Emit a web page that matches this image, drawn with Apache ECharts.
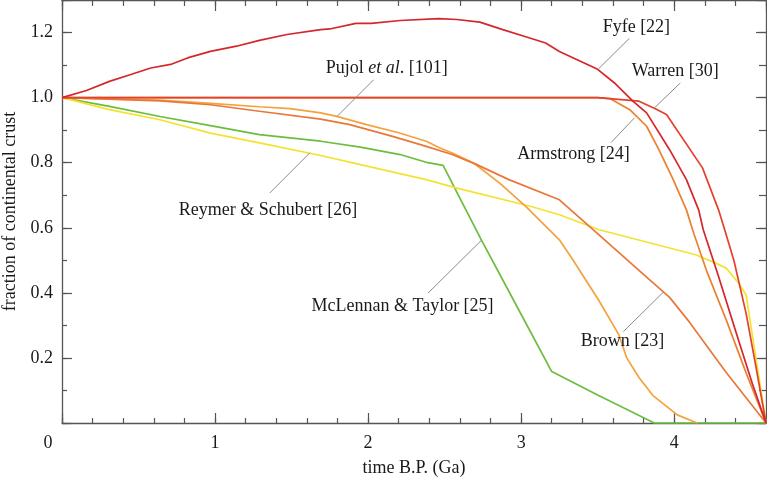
<!DOCTYPE html>
<html><head><meta charset="utf-8">
<script src="https://cdn.jsdelivr.net/npm/echarts@6/dist/echarts.min.js"></script>
<style>html,body{margin:0;padding:0;background:#fff}#c{width:767px;height:479px}</style>
</head><body><div id="c"></div>
<script>
// ---- data (time B.P. in Ga, fraction of present continental crust) ----
const fyfe = [[0,1.0],[0.16,1.022],[0.31,1.05],[0.45,1.071],[0.58,1.091],[0.71,1.102],[0.82,1.122],[0.97,1.142],[1.14,1.158],[1.29,1.176],[1.47,1.194],[1.69,1.209],[1.75,1.211],[1.92,1.228],[2.02,1.228],[2.21,1.237],[2.46,1.243],[2.58,1.24],[2.73,1.232],[2.88,1.209],[3.03,1.187],[3.16,1.168],[3.25,1.142],[3.5,1.087],[3.61,1.045],[3.73,0.989],[3.82,0.953],[3.97,0.84],[4.08,0.748],[4.16,0.655],[4.19,0.594],[4.29,0.45],[4.42,0.255],[4.51,0.122],[4.6,0]];
const warren = [[0,1.0],[3.5,1.0],[3.77,0.989],[3.88,0.965],[3.95,0.948],[4.185,0.784],[4.29,0.655],[4.33,0.594],[4.39,0.5],[4.47,0.337],[4.53,0.184],[4.6,0]];
const armstrong = [[0,1.0],[3.5,1.0],[3.58,0.997],[3.71,0.963],[3.82,0.912],[3.9,0.84],[3.99,0.752],[4.08,0.655],[4.13,0.58],[4.21,0.47],[4.34,0.317],[4.47,0.154],[4.6,0]];
const pujol = [[0,1.0],[0.64,0.992],[0.97,0.982],[1.29,0.972],[1.49,0.966],[1.69,0.953],[1.79,0.943],[1.99,0.917],[2.2,0.892],[2.38,0.866],[2.47,0.845],[2.55,0.83],[2.69,0.799],[2.86,0.737],[3.03,0.666],[3.25,0.563],[3.34,0.5],[3.51,0.375],[3.64,0.27],[3.69,0.2],[3.77,0.14],[3.86,0.085],[4.02,0.025],[4.15,0]];
const brown = [[0,1.0],[0.64,0.99],[0.97,0.978],[1.29,0.958],[1.69,0.934],[1.88,0.917],[2.16,0.881],[2.38,0.85],[2.55,0.825],[2.71,0.794],[2.92,0.748],[3.25,0.686],[3.47,0.594],[3.84,0.44],[3.97,0.386],[4.1,0.31],[4.34,0.155],[4.6,0]];
const mclennan = [[0,1.0],[0.31,0.973],[0.64,0.942],[0.97,0.914],[1.29,0.886],[1.69,0.866],[1.95,0.848],[2.21,0.825],[2.39,0.8],[2.49,0.792],[2.74,0.563],[2.95,0.378],[3.2,0.158],[3.5,0.086],[3.87,0],[4.6,0]];
const reymer = [[0,1.0],[0.31,0.963],[0.64,0.932],[0.97,0.891],[1.29,0.861],[1.69,0.822],[1.95,0.794],[2.38,0.748],[2.58,0.722],[3.06,0.666],[3.25,0.64],[3.51,0.594],[4.14,0.517],[4.25,0.496],[4.34,0.476],[4.42,0.43],[4.47,0.394],[4.6,0]];
const xTickLabels = ['0','1','2','3','4'];
const yTickLabels = ['0.2','0.4','0.6','0.8','1.0','1.2'];

// ---- annotation labels (data coordinates) ----
const annotations = [
  {label:'Fyfe [22]', at:[3.753,1.215], from:[3.707,1.182], to:[3.507,1.089]},
  {label:'Warren [30]', at:[4.007,1.081], from:[4.04,1.045], to:[3.87,0.968]},
  {label:'Armstrong [24]', at:[3.342,0.825], from:[3.588,0.862], to:[3.74,0.9375]},
  {label:'{n|Pujol }{i|et al}{n|. [101]}', at:[2.122,1.091], from:[2.037,1.055], to:[1.798,0.9425]},
  {label:'Reymer & Schubert [26]', at:[1.346,0.655], from:[1.358,0.707], to:[1.619,0.83]},
  {label:'McLennan & Taylor [25]', at:[2.225,0.358], from:[2.391,0.399], to:[2.744,0.563]},
  {label:'Brown [23]', at:[3.663,0.252], from:[3.668,0.281], to:[3.929,0.402]}
];

const FONT = 'Liberation Serif';
const FS = 18;
const AX = '#555';
const TXT = '#1a1a1a';

function xAxisDef(pos, interval, len, labels, line) {
  return {
    type:'value', min:0, max:4.6, interval:interval, position:pos,
    axisLine:{show:line, onZero:false, lineStyle:{color:AX, width:1.3}},
    axisTick:{show:true, inside:true, length:len, lineStyle:{color:AX, width:1.2}},
    splitLine:{show:false},
    axisLabel: labels ? {
      show:true, margin:11, fontFamily:FONT, fontSize:FS, color:TXT,
      showMaxLabel:true,
      formatter: function(v){
        const r = Math.round(v);
        if (Math.abs(v - r) > 1e-6 || r >= xTickLabels.length) return '';
        if (r === 0) return '{z|' + xTickLabels[0] + '}';
        return xTickLabels[r];
      },
      rich:{z:{fontFamily:FONT, fontSize:FS, color:TXT, padding:[0,28,0,0]}}
    } : {show:false},
    name: labels ? 'time B.P. (Ga)' : '',
    nameLocation:'middle', nameGap:36,
    nameTextStyle:{fontFamily:FONT, fontSize:FS, color:TXT}
  };
}
function yAxisDef(pos, interval, len, labels, line) {
  return {
    type:'value', min:0, max:1.3, interval:interval, position:pos,
    axisLine:{show:line, onZero:false, lineStyle:{color:AX, width:1.3}},
    axisTick:{show:true, inside:true, length:len, lineStyle:{color:AX, width:1.2}},
    splitLine:{show:false},
    axisLabel: labels ? {
      show:true, margin:9, fontFamily:FONT, fontSize:FS, color:TXT,
      formatter: function(v){
        const i = Math.round(v / 0.2) - 1;
        if (Math.abs(v/0.2 - Math.round(v/0.2)) > 1e-6 || i < 0 || i >= yTickLabels.length) return '';
        return yTickLabels[i];
      }
    } : {show:false},
    name: labels ? 'fraction of continental crust' : '',
    nameLocation:'middle', nameGap:39, nameRotate:90,
    nameTextStyle:{fontFamily:FONT, fontSize:FS, color:TXT}
  };
}

function lineSeries(name, data, color, z) {
  return {
    name:name, type:'line', data:data, xAxisIndex:0, yAxisIndex:0,
    showSymbol:false, symbol:'none', smooth:false, clip:false, z:z,
    lineStyle:{color:color, width:1.7}, emphasis:{disabled:true}
  };
}

const chart = echarts.init(document.getElementById('c'));
chart.setOption({
  animation:false,
  backgroundColor:'#fff',
  grid:{left:62, right:1, top:0, bottom:56, containLabel:false, outerBoundsMode:'none'},
  xAxis:[
    xAxisDef('bottom', 1, 10, true, true),
    xAxisDef('bottom', 0.2, 5, false, false),
    xAxisDef('top', 1, 11, false, true),
    xAxisDef('top', 0.2, 6, false, false)
  ],
  yAxis:[
    yAxisDef('left', 0.2, 10, true, true),
    yAxisDef('left', 0.1, 5, false, false),
    yAxisDef('right', 0.2, 10, false, true),
    yAxisDef('right', 0.1, 7, false, false)
  ],
  series:[
    lineSeries('McLennan & Taylor [25]', mclennan, '#6cbd3e', 3),
    lineSeries('Reymer & Schubert [26]', reymer, '#f3e330', 4),
    lineSeries('Pujol et al. [101]', pujol, '#f4a23c', 5),
    lineSeries('Brown [23]', brown, '#e8783a', 6),
    lineSeries('Armstrong [24]', armstrong, '#ec8030', 7),
    lineSeries('Warren [30]', warren, '#e2412e', 8),
    lineSeries('Fyfe [22]', fyfe, '#d5262b', 9)
  ]
});

// annotations: leader lines + labels positioned from data coordinates
const graphics = [];
annotations.forEach(function(a){
  const p = chart.convertToPixel({xAxisIndex:0, yAxisIndex:0}, a.at);
  const f = chart.convertToPixel({xAxisIndex:0, yAxisIndex:0}, a.from);
  const t = chart.convertToPixel({xAxisIndex:0, yAxisIndex:0}, a.to);
  graphics.push({type:'line', z:20, shape:{x1:f[0], y1:f[1], x2:t[0], y2:t[1]}, style:{stroke:'#8a8a8a', lineWidth:1}});
  graphics.push({type:'text', z:21, x:p[0], y:p[1], style:{
    text:a.label, align:'center', verticalAlign:'middle',
    font:FS + 'px "' + FONT + '"', fill:TXT,
    rich:{n:{fontFamily:FONT, fontSize:FS, fill:TXT, color:TXT}, i:{fontFamily:FONT, fontSize:FS, fontStyle:'italic', fill:TXT, color:TXT}}
  }});
});
chart.setOption({graphic:graphics});
</script>
</body></html>
